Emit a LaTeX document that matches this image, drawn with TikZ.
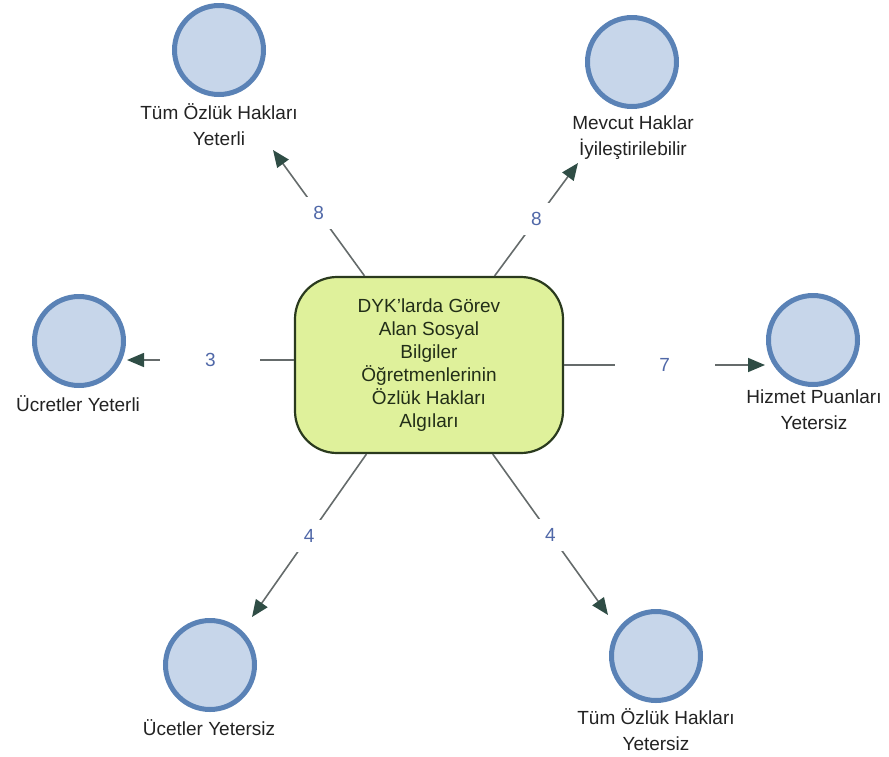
\documentclass[tikz,border=0pt]{standalone}
\usepackage{fontspec}
\setmainfont{Liberation Sans}
\usetikzlibrary{arrows.meta}
\definecolor{circfill}{HTML}{C7D6EA}
\definecolor{circdraw}{HTML}{5A82B6}
\definecolor{mainfill}{HTML}{DFF19B}
\definecolor{maindraw}{HTML}{2A3A1E}
\definecolor{linec}{HTML}{656B6B}
\definecolor{arrowc}{HTML}{2F4D45}
\definecolor{numc}{HTML}{5068A8}
\definecolor{txtc}{HTML}{222222}
\tikzset{
  circ/.style={circle, fill=circfill, draw=circdraw, line width=5pt, minimum size=89pt, inner sep=0pt},
  clabel/.style={align=center, text=txtc, font=\fontsize{19}{26}\selectfont, inner sep=0pt},
  mainbox/.style={rectangle, rounded corners=42pt, fill=mainfill, draw=maindraw, line width=2.2pt,
    minimum width=268pt, minimum height=176pt, align=center, text=maindraw!80!black,
    font=\fontsize{19}{23}\selectfont, inner sep=0pt},
  conn/.style={draw=linec, line width=1.6pt, -{Triangle[length=17pt,width=14pt,color=arrowc]}},
  lbl/.style={midway, fill=white, text=numc, minimum width=100pt, minimum height=32pt, inner sep=0pt,
    font=\fontsize{19}{23}\selectfont}
}
\begin{document}
\begin{tikzpicture}[x=1pt,y=-1pt]
\useasboundingbox (0,0) rectangle (889,756);
\node[mainbox] (main) at (429,365) {DYK'larda Görev\\Alan Sosyal\\Bilgiler\\Öğretmenlerinin\\Özlük Hakları\\Algıları};

\node[circ] (c1) at (219,50) {};
\node[clabel] (l1) at (219,125) {Tüm Özlük Hakları\\Yeterli};
\node[circ] (c2) at (632,62) {};
\node[clabel] (l2) at (633,138) {Mevcut Haklar\\İyileştirilebilir};
\node[circ] (c3) at (79,341) {};
\node[clabel] (l3) at (78,404) {Ücretler Yeterli};
\node[circ] (c4) at (813,340) {};
\node[clabel] (l4) at (814,410) {Hizmet Puanları\\Yetersiz};
\node[circ] (c5) at (210,665) {};
\node[clabel] (l5) at (209,728) {Ücetler Yetersiz};
\node[circ] (c6) at (656,656) {};
\node[clabel] (l6) at (656,730) {Tüm Özlük Hakları\\Yetersiz};

\coordinate (t1) at (273,150);
\coordinate (t2) at (578,163);
\coordinate (t3) at (127,360);
\coordinate (t4) at (765,365);
\coordinate (t5) at (252,617);
\coordinate (t6) at (608,615);

\draw[conn] (main) -- node[lbl]{8} (t1);
\draw[conn] (main) -- node[lbl]{8} (t2);
\draw[conn] (main.west |- t3) -- node[lbl]{3} (t3);
\draw[conn] (main.east |- t4) -- node[lbl]{7} (t4);
\draw[conn] (main) -- node[lbl]{4} (t5);
\draw[conn] (main) -- node[lbl]{4} (t6);
\end{tikzpicture}
\end{document}
